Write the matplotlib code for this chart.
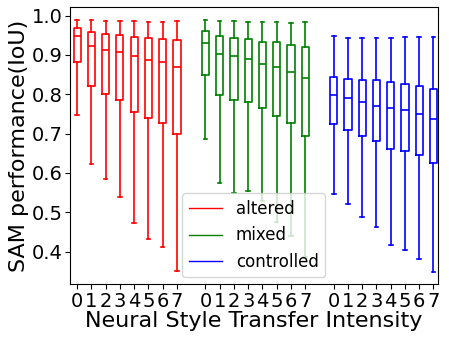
import matplotlib
matplotlib.use("Agg")
import matplotlib.pyplot as plt
from matplotlib.lines import Line2D

intensity = ["0", "1", "2", "3", "4", "5", "6", "7"]
groups = ["altered", "mixed", "controlled"]
colors = ["red", "green", "blue"]

altered_whishi = [0.988, 0.988, 0.986, 0.987, 0.987, 0.983, 0.984, 0.985]
altered_q3     = [0.968, 0.957, 0.952, 0.950, 0.946, 0.944, 0.940, 0.938]
altered_med    = [0.948, 0.922, 0.912, 0.908, 0.898, 0.887, 0.883, 0.868]
altered_q1     = [0.881, 0.820, 0.801, 0.785, 0.755, 0.740, 0.728, 0.700]
altered_whislo = [0.748, 0.623, 0.585, 0.539, 0.472, 0.433, 0.411, 0.351]

mixed_whishi = [0.988, 0.986, 0.986, 0.984, 0.984, 0.984, 0.981, 0.983]
mixed_q3     = [0.960, 0.949, 0.942, 0.940, 0.934, 0.932, 0.924, 0.921]
mixed_med    = [0.929, 0.902, 0.896, 0.890, 0.878, 0.870, 0.857, 0.841]
mixed_q1     = [0.850, 0.798, 0.785, 0.780, 0.764, 0.746, 0.728, 0.693]
mixed_whislo = [0.686, 0.575, 0.550, 0.554, 0.530, 0.475, 0.439, 0.386]

controlled_whishi = [0.947, 0.943, 0.943, 0.943, 0.943, 0.945, 0.945, 0.945]
controlled_q3     = [0.845, 0.840, 0.836, 0.837, 0.831, 0.825, 0.821, 0.814]
controlled_med    = [0.799, 0.791, 0.780, 0.771, 0.765, 0.759, 0.749, 0.736]
controlled_q1     = [0.724, 0.709, 0.695, 0.680, 0.660, 0.656, 0.645, 0.626]
controlled_whislo = [0.547, 0.521, 0.487, 0.462, 0.417, 0.405, 0.382, 0.348]

data = [
    (altered_whislo, altered_q1, altered_med, altered_q3, altered_whishi),
    (mixed_whislo, mixed_q1, mixed_med, mixed_q3, mixed_whishi),
    (controlled_whislo, controlled_q1, controlled_med, controlled_q3, controlled_whishi),
]

fig = plt.figure(figsize=(4.49, 3.43), dpi=100)
ax = fig.add_axes([0.156, 0.172, 0.819, 0.808])

ticks = []
labels = []
for g, (lo, q1, med, q3, hi) in enumerate(data):
    stats = []
    positions = []
    for i in range(len(intensity)):
        stats.append(dict(whislo=lo[i], q1=q1[i], med=med[i], q3=q3[i], whishi=hi[i], fliers=[]))
        positions.append(g * 9 + i)
    c = colors[g]
    props = dict(color=c, linewidth=1.2)
    ax.bxp(stats, positions=positions, widths=0.5, showfliers=False,
           boxprops=props, whiskerprops=props, capprops=props, medianprops=props,
           manage_ticks=False)
    ticks += positions
    labels += intensity

ax.set_xticks(ticks)
ax.set_xticklabels(labels, fontsize=14)
ax.tick_params(axis='x', pad=2)
ax.tick_params(axis='y', labelsize=14, pad=2)
ax.set_xlim(-0.5, 25.3)
ax.set_ylim(0.318, 1.022)
ax.set_yticks([0.4, 0.5, 0.6, 0.7, 0.8, 0.9, 1.0])
ax.set_xlabel("Neural Style Transfer Intensity", fontsize=16, labelpad=0)
ax.set_ylabel("SAM performance(IoU)", fontsize=16, labelpad=2)

handles = [Line2D([0], [0], color=c, linewidth=1) for c in colors]
ax.legend(handles, groups, loc='lower center', fontsize=12, borderaxespad=0.4)

fig.savefig("out.png", dpi=100)
